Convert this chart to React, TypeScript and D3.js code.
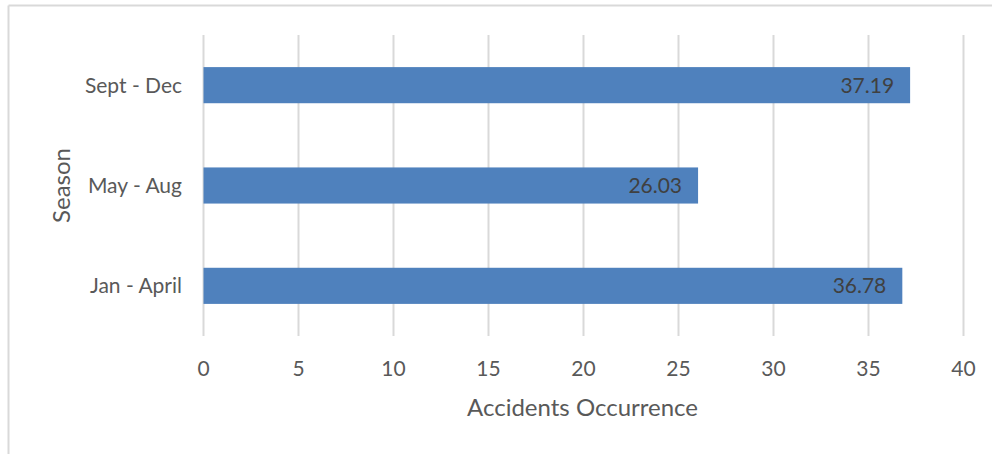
import React from "react";
import * as d3 from "d3";

const categories: string[] = ["Sept - Dec", "May - Aug", "Jan - April"];
const values: number[] = [37.19, 26.03, 36.78];
const xTicks: number[] = [0, 5, 10, 15, 20, 25, 30, 35, 40];
const xTitle = "Accidents Occurrence";
const yTitle = "Season";

const W = 992;
const H = 454;
const plot = { left: 203.5, right: 963.5, top: 35, bottom: 336 };
const FONT = "Lato, 'Open Sans', sans-serif";

export default function App() {
  const x = d3.scaleLinear().domain([0, 40]).range([plot.left, plot.right]);
  const y = d3
    .scaleBand<string>()
    .domain(categories)
    .range([plot.top, plot.bottom])
    .paddingInner(0.64)
    .paddingOuter(0.32);

  return (
    <svg
      width={W}
      height={H}
      style={{ position: "absolute", left: 0, top: 0, background: "#fff" }}
    >
      {/* chart frame */}
      <line x1={8.5} x2={W} y1={5.5} y2={5.5} stroke="#d9d9d9" strokeWidth={2} />
      <line x1={8.5} x2={8.5} y1={5.5} y2={H} stroke="#d9d9d9" strokeWidth={2} />

      {/* vertical gridlines */}
      {xTicks.map((t) => (
        <line
          key={t}
          x1={x(t)}
          x2={x(t)}
          y1={plot.top}
          y2={plot.bottom}
          stroke="#d9d9d9"
          strokeWidth={2}
        />
      ))}

      {/* bars */}
      {categories.map((c, i) => (
        <rect
          key={c}
          x={x(0)}
          y={y(c)!}
          width={x(values[i]) - x(0)}
          height={y.bandwidth()}
          fill="#4f81bd"
        />
      ))}

      {/* data labels */}
      {categories.map((c, i) => (
        <text
          key={c}
          x={x(values[i]) - 16}
          y={y(c)! + y.bandwidth() / 2}
          dy="0.35em"
          textAnchor="end"
          fontFamily={FONT}
          fontSize={21}
          fill="#404040"
        >
          {values[i].toFixed(2)}
        </text>
      ))}

      {/* category labels */}
      {categories.map((c) => (
        <text
          key={c}
          x={182}
          y={y(c)! + y.bandwidth() / 2}
          dy="0.35em"
          textAnchor="end"
          fontFamily={FONT}
          fontSize={21}
          fill="#595959"
        >
          {c}
        </text>
      ))}

      {/* x tick labels */}
      {xTicks.map((t) => (
        <text
          key={t}
          x={x(t)}
          y={369}
          dy="0.35em"
          textAnchor="middle"
          fontFamily={FONT}
          fontSize={21}
          fill="#595959"
        >
          {t}
        </text>
      ))}

      {/* axis titles */}
      <text
        x={(plot.left + plot.right) / 2 - 1}
        y={408}
        dy="0.35em"
        textAnchor="middle"
        fontFamily={FONT}
        fontSize={24}
        fill="#595959"
      >
        {xTitle}
      </text>
      <text
        transform={`translate(62, ${(plot.top + plot.bottom) / 2}) rotate(-90)`}
        dy="0.35em"
        textAnchor="middle"
        fontFamily={FONT}
        fontSize={24}
        fill="#595959"
      >
        {yTitle}
      </text>
    </svg>
  );
}
